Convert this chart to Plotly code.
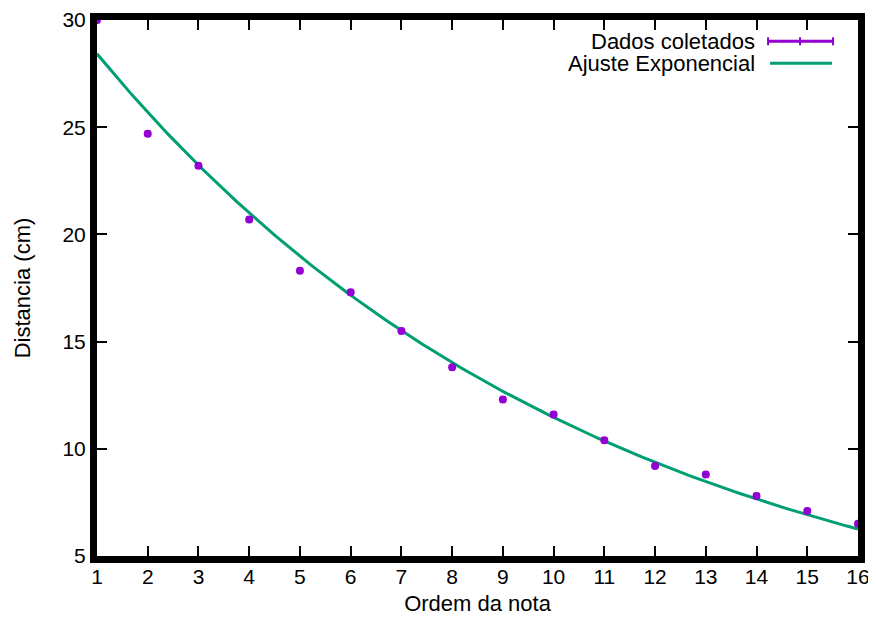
import numpy as np
import plotly.graph_objects as go

# dados coletados: ordem da nota x distancia (cm)
ordem = [1, 2, 3, 4, 5, 6, 7, 8, 9, 10, 11, 12, 13, 14, 15, 16]
distancia = [30.0, 24.7, 23.2, 20.7, 18.3, 17.3, 15.5, 13.8, 12.3, 11.6, 10.4, 9.2, 8.8, 7.8, 7.1, 6.5]
erro = [0.1] * 16
yticks = [5, 10, 15, 20, 25, 30]

# parametros do ajuste f(x) = a * exp(-b x)
a_fit = 31.44
b_fit = 0.1009

purple = "#9400D3"
green = "#009E73"
font = "Liberation Sans, Arial, sans-serif"

# a pagina tem margem de 8px no body, entao a figura fica 16px menor
W, H = 860, 608
L, R, T, B = 88.5, 10, 11.7, 60


def px(x):
    # pixel horizontal da figura -> coordenada paper
    return (x - L) / (W - L - R)


def py(y):
    # pixel vertical da figura -> coordenada paper
    return (H - B - y) / (H - T - B)


x_fit = np.linspace(1, 16, 300)
y_fit = a_fit * np.exp(-b_fit * x_fit)

fig = go.Figure()
fig.add_trace(go.Scatter(
    x=x_fit, y=y_fit, mode="lines", name="Ajuste Exponencial",
    line=dict(color=green, width=3),
))
fig.add_trace(go.Scatter(
    x=ordem, y=distancia, mode="markers", name="Dados coletados",
    marker=dict(color=purple, size=8),
    error_y=dict(type="data", array=erro, color=purple, thickness=2, width=3),
))

axis_common = dict(
    showgrid=False, zeroline=False, showline=True, linecolor="black", linewidth=7,
    mirror="ticks", ticks="inside", ticklen=10, tickwidth=2, tickcolor="black",
    tickfont=dict(family=font, size=21, color="black"), automargin=False,
    ticklabeloverflow="allow",
)

fig.update_layout(
    template="none",
    width=W, height=H,
    margin=dict(l=L, r=R, t=T, b=B),
    paper_bgcolor="white", plot_bgcolor="white",
    font=dict(family=font, color="black"),
    showlegend=False,
    xaxis=dict(range=[1, 16], tickvals=ordem, ticklabelstandoff=-4,
               title=dict(text="Ordem da nota", font=dict(size=22), standoff=17), **axis_common),
    yaxis=dict(range=[5, 30], tickvals=yticks,
               title=dict(text="Distancia (cm)", font=dict(size=22), standoff=28), **axis_common),
)

# legenda no estilo gnuplot: texto alinhado a direita, amostra a direita
fig.add_annotation(x=px(748), y=py(33), xref="paper", yref="paper", text="Dados coletados", showarrow=False,
                   xanchor="right", yanchor="middle", borderpad=0, font=dict(size=22))
fig.add_annotation(x=px(748), y=py(55), xref="paper", yref="paper", text="Ajuste Exponencial", showarrow=False,
                   xanchor="right", yanchor="middle", borderpad=0, font=dict(size=22))

sample = dict(type="line", xref="paper", yref="paper")
fig.add_shape(x0=px(760), x1=px(825), y0=py(33), y1=py(33), line=dict(color=purple, width=3), **sample)
for xc in [760, 792, 825]:
    fig.add_shape(x0=px(xc), x1=px(xc), y0=py(29), y1=py(37), line=dict(color=purple, width=2), **sample)
fig.add_shape(x0=px(762), x1=px(824), y0=py(55), y1=py(55), line=dict(color=green, width=3), **sample)

fig.write_html("out.html")
